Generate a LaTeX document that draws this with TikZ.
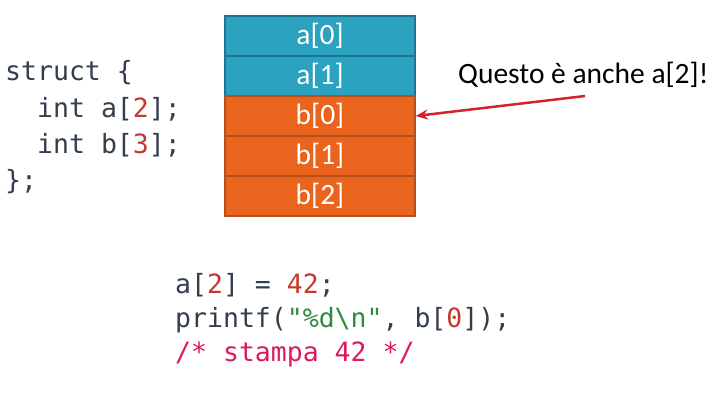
\documentclass[tikz,border=0pt]{standalone}
\usepackage{fontspec}
\setmainfont{Carlito}
\newfontfamily\codefont{DejaVu Sans Mono}
\usetikzlibrary{arrows.meta}

\definecolor{cellA}{HTML}{2CA2C1}
\definecolor{cellAline}{HTML}{1E7590}
\definecolor{cellB}{HTML}{EB641E}
\definecolor{cellBline}{HTML}{B4501C}
\definecolor{codetext}{HTML}{323E4C}
\definecolor{codenum}{HTML}{C4392B}
\definecolor{codestr}{HTML}{2E8B3C}
\definecolor{codecmt}{HTML}{DC1A5E}
\definecolor{arrowred}{HTML}{D6202E}

\tikzset{
	cell/.style={draw, line width=1.5pt, minimum width=190pt, minimum height=40pt, inner sep=0pt, text=white, font=\fontsize{29.5}{29.5}\selectfont},
	code/.style={anchor=base west, inner sep=0pt, text=codetext, font=\codefont\fontsize{26.5}{26.5}\selectfont},
}

\begin{document}
\begin{tikzpicture}[x=1pt,y=-1pt]
			\useasboundingbox (0,0) rectangle (717,400);

			\foreach \i/\lbl in {0/a[0], 1/a[1], 2/b[0], 3/b[1], 4/b[2]} {
			\ifnum\i<2 \node[cell, fill=cellA, draw=cellAline] (cell\i) at (320,36+40*\i) {\lbl}; % a
			\else \node[cell, fill=cellB, draw=cellBline] (cell\i) at (320,36+40*\i) {\lbl}; % b
			\fi }

			% struct
			\node[code] (s1) at (5,80) {struct \{};
			\node[code] (s2) at (37,117) {int a[\textcolor{codenum}{2}];};
			\node[code] (s3) at (37,153) {int b[\textcolor{codenum}{3}];};
			\node[code] (s4) at (5,189) {\};};

			% main
			\node[code] (m1) at (175,293) {a[\textcolor{codenum}{2}] = \textcolor{codenum}{42};};
			\node[code] (m2) at (175,327) {printf(\textcolor{codestr}{"\%d\textbackslash n"}, b[\textcolor{codenum}{0}]);};
			\node[code, text=codecmt] (m3) at (175,361) {/* stampa 42 */};

			\node[anchor=base west, inner sep=0pt, font=\fontsize{29.5}{29.5}\selectfont] (note) at (458,83) {Questo è anche a[2]!};
			\coordinate (tail) at (585,96);
			\draw[arrowred, line width=2.5pt, -{Stealth[length=12pt,width=10pt]}] (tail) -- (cell2.east);
		\end{tikzpicture}
\end{document}
